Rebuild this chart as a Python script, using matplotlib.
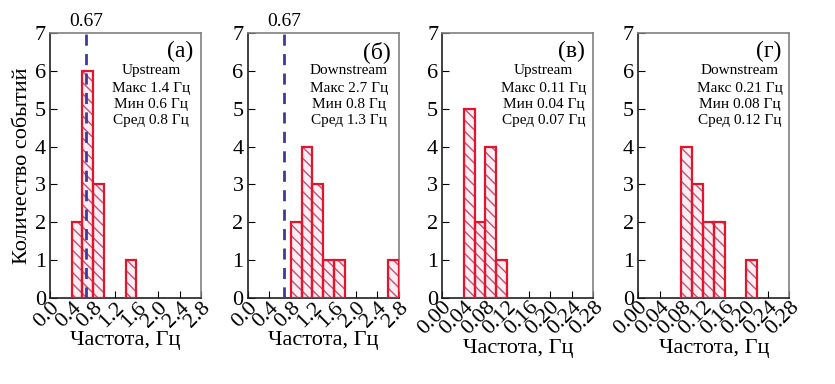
import matplotlib
matplotlib.use("Agg")

import numpy as np
import matplotlib.pyplot as plt

plt.rcParams['font.family'] = ['Liberation Serif', 'DejaVu Serif']

# левые края бинов и число событий
left_a = [0.4, 0.6, 0.8, 1.4]
count_a = [2, 6, 3, 1]
left_b = [0.8, 1.0, 1.2, 1.4, 1.6, 2.6]
count_b = [2, 4, 3, 1, 1, 1]
left_c = [0.04, 0.06, 0.08, 0.10]
count_c = [5, 2, 4, 1]
left_d = [0.08, 0.10, 0.12, 0.14, 0.20]
count_d = [4, 3, 2, 2, 1]

width_big = 0.2
width_small = 0.02
threshold = 0.67

ticks_big = [0.0, 0.4, 0.8, 1.2, 1.6, 2.0, 2.4, 2.8]
ticks_small = [0.00, 0.04, 0.08, 0.12, 0.16, 0.20, 0.24, 0.28]

panels = [
    ("(а)", "Upstream", "Макс 1.4 Гц", "Мин 0.6 Гц", "Сред 0.8 Гц"),
    ("(б)", "Downstream", "Макс 2.7 Гц", "Мин 0.8 Гц", "Сред 1.3 Гц"),
    ("(в)", "Upstream", "Макс 0.11 Гц", "Мин 0.04 Гц", "Сред 0.07 Гц"),
    ("(г)", "Downstream", "Макс 0.21 Гц", "Мин 0.08 Гц", "Сред 0.12 Гц"),
]

fig = plt.figure(figsize=(8.35, 3.84), dpi=100)
lefts = [0.060, 0.2966, 0.5297, 0.7644]
axes = [fig.add_axes([l, 0.224, 0.181, 0.690]) for l in lefts]

data = [(left_a, count_a, width_big, ticks_big, "%.1f"),
        (left_b, count_b, width_big, ticks_big, "%.1f"),
        (left_c, count_c, width_small, ticks_small, "%.2f"),
        (left_d, count_d, width_small, ticks_small, "%.2f")]

for i, ax in enumerate(axes):
    lft, cnt, w, ticks, fmt = data[i]
    # штриховка
    ax.bar(lft, cnt, w, align='edge', facecolor='#fdeef2', edgecolor='#c0507a',
           hatch='\\\\\\', linewidth=0, zorder=2)
    # контур
    ax.bar(lft, cnt, w, align='edge', fill=False, edgecolor='#e3142c',
           linewidth=1.6, zorder=3)

    ax.set_xlim(ticks[0], ticks[-1])
    ax.set_ylim(0, 7)
    ax.set_xticks(ticks)
    ax.set_xticklabels([fmt % t for t in ticks], rotation=45, ha='right',
                       rotation_mode='anchor', fontsize=16)
    ax.set_yticks(range(8))
    ax.tick_params(axis='both', direction='in', length=5, labelsize=16,
                   top=False, right=False, pad=3)
    ax.tick_params(axis='x', pad=0)
    for s in ['top', 'right']:
        ax.spines[s].set_color('#808080')
    for s in ['left', 'bottom']:
        ax.spines[s].set_color('#202020')
    for s in ax.spines.values():
        s.set_linewidth(1.2)

    ax.set_xlabel("Частота, Гц", fontsize=16, labelpad=0)

    lab, stream, mx, mn, av = panels[i]
    ax.text(0.945, 0.93, lab, transform=ax.transAxes, ha='right', va='center',
            fontsize=17)
    ax.text(0.67, 0.86, stream, transform=ax.transAxes, ha='center',
            va='center', fontsize=11)
    ax.text(0.67, 0.79, mx, transform=ax.transAxes, ha='center', va='center',
            fontsize=11)
    ax.text(0.67, 0.73, mn, transform=ax.transAxes, ha='center', va='center',
            fontsize=11)
    ax.text(0.67, 0.67, av, transform=ax.transAxes, ha='center', va='center',
            fontsize=11)

    if i < 2:
        ax.axvline(threshold, color='#3c3c96', linestyle=(0, (4, 3)),
                   linewidth=2, zorder=4)
        ax.text(threshold, 7.3, "%.2f" % threshold, ha='center',
                va='center', fontsize=14)

axes[0].set_ylabel("Количество событий", fontsize=16, labelpad=2)

plt.savefig('out.png', dpi=100)
